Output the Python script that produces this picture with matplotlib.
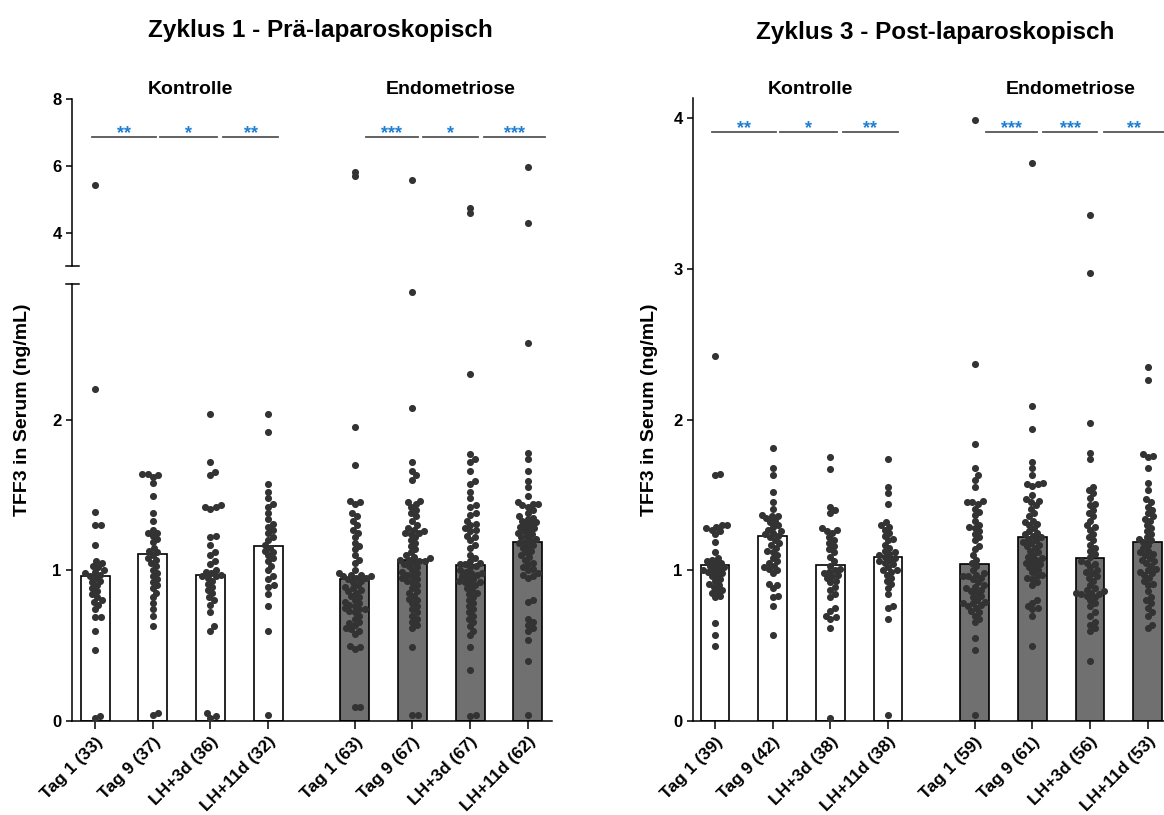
import numpy as np
import matplotlib
matplotlib.use("Agg")
import matplotlib.pyplot as plt
from matplotlib.transforms import blended_transform_factory

plt.rcParams['font.family'] = ['Liberation Sans', 'DejaVu Sans']
plt.rcParams['font.weight'] = 'bold'

groups = ['Tag 1', 'Tag 9', 'LH+3d', 'LH+11d']

# Zyklus 1 - Kontrolle
c1_ctrl_tag1 = [5.43, 2.2, 1.39, 1.30, 1.30, 1.17, 1.06, 1.05, 1.03, 1.02, 1.0, 0.99, 0.98, 0.97, 0.96, 0.95,
                0.93, 0.92, 0.9, 0.88, 0.86, 0.84, 0.82, 0.8, 0.79, 0.77, 0.74, 0.69, 0.69, 0.6, 0.47, 0.03, 0.02]
c1_ctrl_tag9 = [1.64, 1.64, 1.63, 1.62, 1.58, 1.49, 1.38, 1.33, 1.27, 1.25, 1.25, 1.23, 1.21, 1.19, 1.15, 1.13,
                1.12, 1.1, 1.08, 1.07, 1.05, 1.03, 1.0, 0.98, 0.96, 0.94, 0.92, 0.9, 0.88, 0.85, 0.82, 0.78,
                0.74, 0.7, 0.63, 0.05, 0.04]
c1_ctrl_lh3 = [2.04, 1.72, 1.65, 1.63, 1.43, 1.42, 1.42, 1.41, 1.23, 1.22, 1.17, 1.12, 1.1, 1.06, 1.04, 1.0,
               0.99, 0.98, 0.97, 0.96, 0.96, 0.95, 0.93, 0.91, 0.89, 0.87, 0.85, 0.82, 0.8, 0.77, 0.72, 0.63,
               0.6, 0.05, 0.03, 0.02]
c1_ctrl_lh11 = [2.04, 1.92, 1.57, 1.52, 1.48, 1.44, 1.42, 1.38, 1.34, 1.31, 1.29, 1.27, 1.25, 1.22, 1.2, 1.17,
                1.15, 1.13, 1.12, 1.1, 1.08, 1.06, 1.03, 1.0, 0.96, 0.94, 0.9, 0.89, 0.84, 0.76, 0.6, 0.04]
# Zyklus 1 - Endometriose
c1_endo_tag1 = [5.82, 5.70, 1.95, 1.70, 1.46, 1.45, 1.44, 1.38, 1.36, 1.33, 1.3, 1.27, 1.25, 1.22, 1.18, 1.16,
                1.14, 1.1, 1.07, 1.05, 1.0, 0.98, 0.97, 0.97, 0.96, 0.96, 0.95, 0.95, 0.94, 0.93, 0.92, 0.9,
                0.89, 0.88, 0.87, 0.86, 0.85, 0.83, 0.82, 0.8, 0.79, 0.78, 0.77, 0.76, 0.75, 0.74, 0.74, 0.73,
                0.72, 0.7, 0.68, 0.66, 0.65, 0.64, 0.62, 0.61, 0.6, 0.58, 0.5, 0.49, 0.48, 0.09, 0.09]
c1_endo_tag9 = [5.58, 2.85, 2.08, 1.72, 1.66, 1.63, 1.6, 1.46, 1.45, 1.44, 1.42, 1.4, 1.38, 1.36, 1.33, 1.3,
                1.28, 1.27, 1.26, 1.25, 1.25, 1.24, 1.22, 1.2, 1.18, 1.16, 1.14, 1.12, 1.1, 1.09, 1.08, 1.07,
                1.07, 1.06, 1.06, 1.05, 1.04, 1.03, 1.02, 1.0, 0.99, 0.98, 0.97, 0.96, 0.95, 0.94, 0.93, 0.92,
                0.9, 0.88, 0.86, 0.85, 0.83, 0.81, 0.8, 0.78, 0.76, 0.74, 0.72, 0.7, 0.68, 0.66, 0.64, 0.62,
                0.49, 0.04, 0.04]
c1_endo_lh3 = [4.75, 4.6, 2.3, 1.77, 1.74, 1.72, 1.66, 1.59, 1.57, 1.52, 1.48, 1.43, 1.42, 1.38, 1.37, 1.33,
               1.31, 1.3, 1.28, 1.27, 1.26, 1.23, 1.22, 1.2, 1.17, 1.15, 1.1, 1.08, 1.06, 1.05, 1.04, 1.04,
               1.03, 1.02, 1.0, 0.99, 0.98, 0.98, 0.97, 0.96, 0.95, 0.94, 0.93, 0.92, 0.92, 0.91, 0.9, 0.88,
               0.87, 0.85, 0.84, 0.82, 0.8, 0.78, 0.76, 0.74, 0.72, 0.7, 0.68, 0.66, 0.63, 0.6, 0.57, 0.49,
               0.34, 0.04, 0.03]
c1_endo_lh11 = [5.97, 4.3, 2.51, 1.78, 1.74, 1.66, 1.59, 1.55, 1.49, 1.45, 1.44, 1.44, 1.43, 1.42, 1.4, 1.38,
                1.36, 1.35, 1.34, 1.33, 1.32, 1.31, 1.3, 1.29, 1.28, 1.27, 1.26, 1.25, 1.24, 1.23, 1.22, 1.21,
                1.2, 1.19, 1.18, 1.17, 1.16, 1.15, 1.13, 1.12, 1.1, 1.09, 1.07, 1.05, 1.04, 1.02, 1.01, 1.0,
                0.98, 0.97, 0.96, 0.95, 0.8, 0.79, 0.68, 0.66, 0.64, 0.62, 0.6, 0.54, 0.4, 0.04]

# Zyklus 3 - Kontrolle
c3_ctrl_tag1 = [2.42, 1.64, 1.63, 1.3, 1.3, 1.29, 1.28, 1.27, 1.26, 1.24, 1.19, 1.12, 1.08, 1.07, 1.06, 1.05,
                1.04, 1.03, 1.02, 1.01, 1.0, 1.0, 0.99, 0.98, 0.97, 0.96, 0.94, 0.93, 0.91, 0.9, 0.89, 0.87,
                0.86, 0.85, 0.83, 0.82, 0.65, 0.57, 0.5]
c3_ctrl_tag9 = [1.81, 1.68, 1.63, 1.52, 1.45, 1.41, 1.37, 1.36, 1.36, 1.35, 1.33, 1.32, 1.3, 1.29, 1.27, 1.26,
                1.25, 1.24, 1.23, 1.22, 1.2, 1.18, 1.17, 1.15, 1.13, 1.12, 1.1, 1.08, 1.06, 1.05, 1.03, 1.02,
                1.01, 1.0, 0.98, 0.91, 0.9, 0.88, 0.83, 0.82, 0.76, 0.57]
c3_ctrl_lh3 = [1.75, 1.67, 1.42, 1.40, 1.38, 1.28, 1.27, 1.26, 1.25, 1.22, 1.2, 1.18, 1.16, 1.14, 1.12, 1.09,
               1.06, 1.03, 1.01, 1.0, 0.99, 0.98, 0.97, 0.96, 0.95, 0.93, 0.92, 0.89, 0.87, 0.84, 0.82, 0.75,
               0.73, 0.7, 0.69, 0.68, 0.62, 0.02]
c3_ctrl_lh11 = [1.74, 1.55, 1.51, 1.44, 1.32, 1.3, 1.29, 1.27, 1.25, 1.23, 1.21, 1.2, 1.17, 1.15, 1.13, 1.12,
                1.11, 1.1, 1.09, 1.08, 1.07, 1.06, 1.05, 1.04, 1.02, 1.0, 1.0, 0.99, 0.97, 0.95, 0.93, 0.91,
                0.88, 0.84, 0.76, 0.75, 0.68, 0.04]
# Zyklus 3 - Endometriose
c3_endo_tag1 = [3.99, 2.37, 1.84, 1.68, 1.63, 1.6, 1.55, 1.46, 1.45, 1.45, 1.44, 1.41, 1.39, 1.37, 1.33, 1.3,
                1.29, 1.28, 1.26, 1.24, 1.22, 1.2, 1.16, 1.14, 1.1, 1.07, 1.05, 1.03, 1.0, 0.98, 0.97, 0.96,
                0.96, 0.95, 0.94, 0.92, 0.9, 0.89, 0.88, 0.87, 0.86, 0.85, 0.83, 0.82, 0.8, 0.79, 0.78, 0.78,
                0.77, 0.76, 0.75, 0.73, 0.72, 0.7, 0.68, 0.66, 0.55, 0.47, 0.04]
c3_endo_tag9 = [3.70, 2.09, 1.94, 1.72, 1.68, 1.63, 1.58, 1.57, 1.57, 1.56, 1.5, 1.47, 1.46, 1.45, 1.43, 1.41,
                1.38, 1.36, 1.33, 1.32, 1.31, 1.3, 1.28, 1.26, 1.25, 1.24, 1.23, 1.22, 1.21, 1.2, 1.19, 1.18,
                1.17, 1.16, 1.15, 1.13, 1.12, 1.1, 1.09, 1.08, 1.07, 1.06, 1.05, 1.04, 1.03, 1.02, 1.0, 0.99,
                0.97, 0.96, 0.95, 0.94, 0.92, 0.9, 0.8, 0.78, 0.76, 0.75, 0.74, 0.7, 0.5]
c3_endo_lh3 = [3.36, 2.97, 1.98, 1.78, 1.74, 1.55, 1.53, 1.51, 1.48, 1.44, 1.43, 1.4, 1.38, 1.36, 1.33, 1.3,
               1.29, 1.27, 1.24, 1.22, 1.2, 1.17, 1.15, 1.13, 1.11, 1.09, 1.06, 1.05, 1.04, 1.02, 1.0, 0.99,
               0.98, 0.96, 0.95, 0.93, 0.9, 0.88, 0.87, 0.86, 0.85, 0.85, 0.84, 0.84, 0.83, 0.82, 0.8, 0.78,
               0.76, 0.72, 0.7, 0.66, 0.64, 0.62, 0.6, 0.4]
c3_endo_lh11 = [2.35, 2.26, 1.77, 1.76, 1.75, 1.68, 1.58, 1.53, 1.47, 1.45, 1.42, 1.4, 1.38, 1.36, 1.34, 1.33,
                1.3, 1.28, 1.26, 1.24, 1.22, 1.21, 1.2, 1.19, 1.17, 1.15, 1.13, 1.12, 1.11, 1.1, 1.08, 1.07,
                1.06, 1.05, 1.03, 1.01, 1.0, 0.99, 0.98, 0.97, 0.95, 0.93, 0.91, 0.9, 0.86, 0.82, 0.8, 0.78,
                0.75, 0.72, 0.7, 0.64, 0.62]

# bar heights (mean)
c1_ctrl_mean = [0.96, 1.11, 0.97, 1.16]
c1_endo_mean = [0.94, 1.07, 1.035, 1.19]
c3_ctrl_mean = [1.035, 1.23, 1.035, 1.09]
c3_endo_mean = [1.04, 1.22, 1.08, 1.19]

c1_ctrl_sig = ['**', '*', '**']
c1_endo_sig = ['***', '*', '***']
c3_ctrl_sig = ['**', '*', '**']
c3_endo_sig = ['***', '***', '**']

positions = [0, 1, 2, 3, 4.5, 5.5, 6.5, 7.5]
sig_spans = [(-0.05, 1.05), (1.13, 2.12), (2.22, 3.17), (4.7, 5.59), (5.68, 6.63), (6.74, 7.8)]

W, H = 1164, 815
XS = 57.7    # px per category
YS = 150.7   # px per ng/mL (lower part)
DOT = 5.6    # swarm spacing in px
fig = plt.figure(figsize=(W / 100, H / 100), dpi=100)


def add_ax(x0, y0, x1, y1):
    return fig.add_axes([x0 / W, 1 - y1 / H, (x1 - x0) / W, (y1 - y0) / H])


def swarm(vals, yscale):
    vals = np.asarray(vals, dtype=float)
    xs = np.zeros(len(vals))
    placed = []
    for i in np.argsort(vals):
        y = vals[i] * yscale
        cands = [0.0]
        for px, py in placed:
            dy = y - py
            if abs(dy) < DOT:
                dx = np.sqrt(DOT ** 2 - dy ** 2)
                cands += [px + dx, px - dx]
        cands.sort(key=abs)
        for c in cands:
            if all((c - px) ** 2 + (y - py) ** 2 >= DOT ** 2 - 1e-6 for px, py in placed):
                xs[i] = c
                break
        placed.append((xs[i], y))
    return xs / XS


def style(ax, bottom=True):
    for s in ['top', 'right']:
        ax.spines[s].set_visible(False)
    ax.spines['left'].set_linewidth(1.1)
    ax.spines['bottom'].set_linewidth(1.1)
    if not bottom:
        ax.spines['bottom'].set_visible(False)
        ax.set_xticks([])
    ax.tick_params(axis='both', direction='out', length=4, width=1.1, labelsize=12)
    ax.tick_params(axis='x', length=6)


def draw_panel(lo, up, data, means, sigs, sig_y, lab_ax, ymax_low):
    ncounts = [len(d) for d in data]
    for k, (pos, vals) in enumerate(zip(positions, data)):
        face = 'white' if k < 4 else '#707070'
        lo.bar(pos, means[k], width=0.5, color=face, edgecolor='black', linewidth=1.2, zorder=2)
        vals = np.asarray(vals)
        low = vals[vals <= ymax_low]
        lo.scatter(pos + swarm(low, YS), low, s=26, color='#333333', linewidths=0, zorder=3, clip_on=False)
        if up is not None:
            high = vals[vals > ymax_low]
            up.scatter(np.full(len(high), pos), high, s=26, color='#333333', linewidths=0, zorder=3)
    lo.set_xticks(positions)
    lo.set_xticklabels([f'{g} ({n})' for g, n in zip(groups * 2, ncounts)], rotation=45,
                       ha='right', rotation_mode='anchor', fontsize=12.5)
    for (a, b), s in zip(sig_spans, sigs):
        lab_ax.plot([a, b], [sig_y, sig_y], color='#555555', lw=1.3, clip_on=False)
        lab_ax.annotate(s, xy=((a + b) / 2, sig_y), xytext=(0, -1), textcoords='offset points',
                        ha='center', va='baseline', color='#1f7fd0', fontsize=13)
    tr = blended_transform_factory(lab_ax.transData, fig.transFigure)
    lab_ax.text(1.65, 1 - 89 / H, 'Kontrolle', transform=tr, ha='center', va='center', fontsize=14)
    lab_ax.text(6.17, 1 - 89 / H, 'Endometriose', transform=tr, ha='center', va='center', fontsize=14)


# ---- Zyklus 1 (broken axis) ----
lo1 = add_ax(72, 284, 552, 721)
up1 = add_ax(72, 99, 552, 266)
for ax in (lo1, up1):
    ax.set_xlim(-0.4, -0.4 + 480 / XS)
lo1.set_ylim(0, 437 / YS)
lo1.set_yticks([0, 1, 2])
up1.set_ylim(3, 8)
up1.set_yticks([4, 6, 8])
style(lo1)
style(up1, bottom=False)
cap = [-0.0125, 0.0146]
lo1.plot(cap, [1, 1], transform=lo1.transAxes, color='black', lw=1.1, clip_on=False)
up1.plot(cap, [0, 0], transform=up1.transAxes, color='black', lw=1.1, clip_on=False)

draw_panel(lo1, up1,
           [c1_ctrl_tag1, c1_ctrl_tag9, c1_ctrl_lh3, c1_ctrl_lh11,
            c1_endo_tag1, c1_endo_tag9, c1_endo_lh3, c1_endo_lh11],
           c1_ctrl_mean + c1_endo_mean, c1_ctrl_sig + c1_endo_sig, 6.87, up1, 2.9)

# ---- Zyklus 3 ----
ax3 = add_ax(693, 98, 1173, 721)
ax3.set_xlim(-0.38, -0.38 + 480 / XS)
ax3.set_ylim(0, 623 / YS)
ax3.set_yticks([0, 1, 2, 3, 4])
style(ax3)
draw_panel(ax3, None,
           [c3_ctrl_tag1, c3_ctrl_tag9, c3_ctrl_lh3, c3_ctrl_lh11,
            c3_endo_tag1, c3_endo_tag9, c3_endo_lh3, c3_endo_lh11],
           c3_ctrl_mean + c3_endo_mean, c3_ctrl_sig + c3_endo_sig, 3.91, ax3, 10)

fig.text(320 / W, 1 - 30 / H, 'Zyklus 1 - Prä-laparoskopisch', ha='center', va='center', fontsize=17.5)
fig.text(935 / W, 1 - 33 / H, 'Zyklus 3 - Post-laparoskopisch', ha='center', va='center', fontsize=17.5)
fig.text(23 / W, 1 - 410 / H, 'TFF3 in Serum (ng/mL)', rotation=90, ha='center', va='center', fontsize=14)
fig.text(650 / W, 1 - 410 / H, 'TFF3 in Serum (ng/mL)', rotation=90, ha='center', va='center', fontsize=14)

fig.savefig('out.png', dpi=100)
